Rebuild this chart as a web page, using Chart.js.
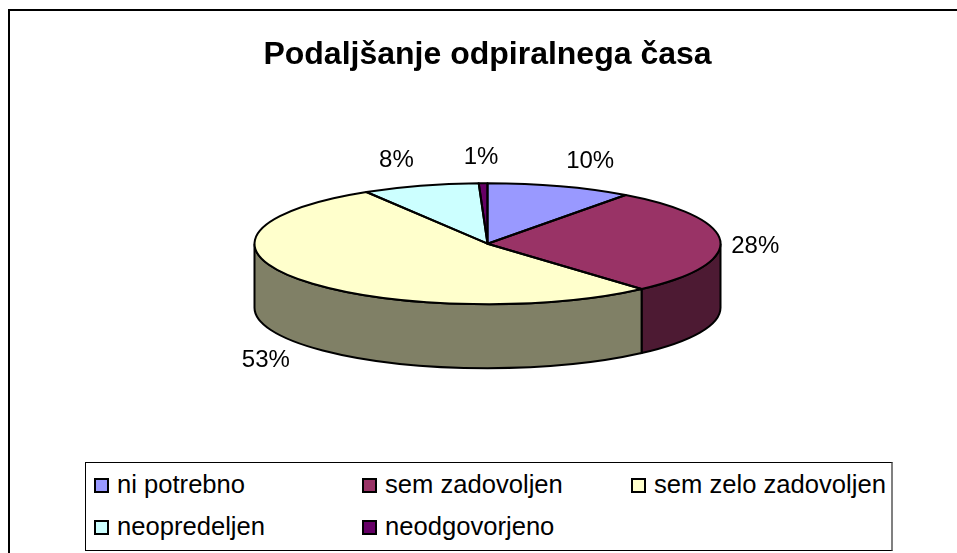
<!DOCTYPE html>
<html>
<head>
<meta charset="utf-8">
<script src="https://cdn.jsdelivr.net/npm/chart.js@4"></script>
<style>
html, body { margin: 0; padding: 0; background: #fff; overflow: hidden; }
#wrap { position: relative; width: 957px; height: 553px; overflow: hidden; font-family: "Liberation Sans", Arial, sans-serif; }
#frame { position: absolute; left: 8px; top: 9px; width: 1000px; height: 600px; border: 2px solid #000; }
#pie { position: absolute; left: 0; top: 0; }
#legend { position: absolute; left: 85px; top: 462px; width: 805px; height: 87px; border: 1px solid #000; border-right: 2px solid #808080; background: #fff; }
.item { position: absolute; font-size: 25.6px; line-height: 28px; color: #000; white-space: nowrap; }
.swatch { position: absolute; width: 11px; height: 11px; border: 2px solid #000; }
</style>
</head>
<body>
<div id="wrap">
  <div id="frame"></div>
  <canvas id="pie" width="957" height="553"></canvas>
  <div id="legend"></div>
</div>
<script>
const chartTitle = 'Podaljšanje odpiralnega časa';
const categories = ['ni potrebno', 'sem zadovoljen', 'sem zelo zadovoljen', 'neopredeljen', 'neodgovorjeno'];
const shares = [10.1, 28.4, 52.8, 8.1, 0.6];
const topColors = ['#9999FF', '#993366', '#FFFFCC', '#CCFFFF', '#660066'];
const wallColors = ['#4D4D80', '#4D1A33', '#808066', '#668080', '#330033'];

// label nudges from the rim of each slice, px
const labelNudge = [[30, -25], [35, 5], [-34, 17], [-24, -25], [-2, -26]];

const squash = 60.5 / 233;
const depth = 64;

// draws the walls, squashes the pie, strokes the outlines and puts the % labels on
const tiltPlugin = {
    id: 'tilt',
    beforeDatasetsDraw(chart) {
        const ctx = chart.ctx;
        const arcs = chart.getDatasetMeta(0).data;
        const cx = arcs[0].x, cy = arcs[0].y, rx = arcs[0].outerRadius, ry = rx * squash;

        ctx.save();
        ctx.lineWidth = 2;
        ctx.strokeStyle = '#000';
        arcs.forEach((arc, i) => {
            const s = Math.max(arc.startAngle, 0);
            const e = Math.min(arc.endAngle, Math.PI);
            if (e <= s) return;
            ctx.beginPath();
            ctx.ellipse(cx, cy, rx, ry, 0, s, e);
            ctx.ellipse(cx, cy + depth, rx, ry, 0, e, s, true);
            ctx.closePath();
            ctx.fillStyle = wallColors[i];
            ctx.fill();
            ctx.stroke();
        });
        ctx.restore();

        ctx.save();
        ctx.translate(cx, cy);
        ctx.scale(1, squash);
        ctx.translate(-cx, -cy);
    },
    afterDatasetsDraw(chart) {
        const ctx = chart.ctx;
        ctx.restore();

        const arcs = chart.getDatasetMeta(0).data;
        const cx = arcs[0].x, cy = arcs[0].y, rx = arcs[0].outerRadius, ry = rx * squash;

        ctx.save();
        ctx.lineWidth = 2;
        ctx.strokeStyle = '#000';
        ctx.lineJoin = 'round';
        arcs.forEach((arc) => {
            ctx.beginPath();
            ctx.moveTo(cx, cy);
            ctx.ellipse(cx, cy, rx, ry, 0, arc.startAngle, arc.endAngle);
            ctx.closePath();
            ctx.stroke();
        });

        ctx.fillStyle = '#000';
        ctx.font = '24px "Liberation Sans", Arial, sans-serif';
        ctx.textAlign = 'center';
        ctx.textBaseline = 'middle';
        arcs.forEach((arc, i) => {
            const mid = (arc.startAngle + arc.endAngle) / 2;
            const x = cx + Math.cos(mid) * rx + labelNudge[i][0];
            let y = cy + Math.sin(mid) * ry + labelNudge[i][1];
            if (Math.sin(mid) > 0.2) y += depth;
            ctx.fillText(Math.round(shares[i]) + '%', x, y);
        });
        ctx.restore();
    }
};

new Chart(document.getElementById('pie').getContext('2d'), {
    type: 'pie',
    data: {
        labels: categories,
        datasets: [{
            data: shares,
            backgroundColor: topColors,
            borderWidth: 0,
            clip: false
        }]
    },
    options: {
        responsive: false,
        animation: false,
        events: [],
        radius: 233,
        layout: { padding: { left: 254, right: 236, top: 0, bottom: 150 } },
        plugins: {
            legend: { display: false },
            tooltip: { enabled: false },
            title: {
                display: true,
                text: chartTitle,
                fullSize: false,
                color: '#000',
                font: { family: '"Liberation Sans", Arial, sans-serif', size: 32, weight: 'bold' },
                padding: { top: 36, bottom: 10 }
            }
        }
    },
    plugins: [tiltPlugin]
});

// legend, three columns in two rows
const legendBox = document.getElementById('legend');
const colX = [8, 276, 545];
const rowY = [15, 57];
categories.forEach((name, i) => {
    const col = i % 3, row = Math.floor(i / 3);
    const sw = document.createElement('div');
    sw.className = 'swatch';
    sw.style.left = colX[col] + 'px';
    sw.style.top = rowY[row] + 'px';
    sw.style.background = topColors[i];
    legendBox.appendChild(sw);
    const item = document.createElement('div');
    item.className = 'item';
    item.style.left = (colX[col] + 23) + 'px';
    item.style.top = (rowY[row] - 8) + 'px';
    item.textContent = name;
    legendBox.appendChild(item);
});
</script>
</body>
</html>
